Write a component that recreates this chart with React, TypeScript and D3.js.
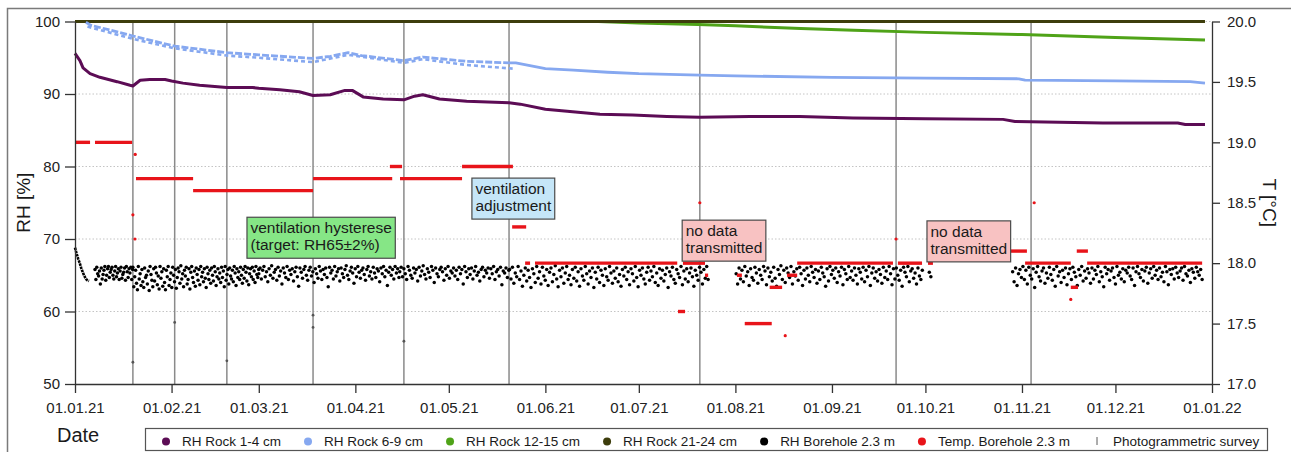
import React, { useRef, useEffect } from "react";
import * as d3 from "d3";

const W = 1291;
const H = 452;
const FONT = "'Liberation Sans', Arial, sans-serif";

// photogrammetric survey dates (vertical lines)
const surveys = [
  "2021-01-19 14", "2021-02-02 00", "2021-02-18 18", "2021-03-18 10", "2021-04-16 14",
  "2021-05-20 08", "2021-07-20 14", "2021-09-21 14", "2021-11-03 22",
];

// RH Rock 1-4 cm
const rock14: [string, number][] = [
  ["2021-01-01 00", 95.6], ["2021-01-02 14", 94.6], ["2021-01-03 14", 93.6], ["2021-01-05 20", 92.8],
  ["2021-01-09 00", 92.3], ["2021-01-14 12", 91.7], ["2021-01-18 16", 91.2], ["2021-01-19 14", 91.1],
  ["2021-01-21 22", 91.9], ["2021-01-25 00", 92.0], ["2021-01-29 22", 92.0], ["2021-02-01 00", 91.8],
  ["2021-02-04 16", 91.5], ["2021-02-10 00", 91.2], ["2021-02-18 18", 90.9], ["2021-02-27 00", 90.9],
  ["2021-03-01 00", 90.8], ["2021-03-07 18", 90.6], ["2021-03-14 00", 90.3], ["2021-03-18 10", 89.8],
  ["2021-03-23 22", 89.9], ["2021-03-28 16", 90.5], ["2021-03-31 00", 90.5], ["2021-04-03 12", 89.6],
  ["2021-04-09 22", 89.3], ["2021-04-16 14", 89.2], ["2021-04-20 00", 89.7], ["2021-04-22 16", 89.9],
  ["2021-04-28 00", 89.3], ["2021-05-06 18", 89.0], ["2021-05-20 08", 88.8], ["2021-05-23 22", 88.6],
  ["2021-06-01 00", 87.9], ["2021-06-18 12", 87.2], ["2021-06-29 00", 87.1], ["2021-07-10 00", 86.9],
  ["2021-07-20 14", 86.8], ["2021-08-05 16", 86.9], ["2021-08-21 16", 86.9], ["2021-09-07 18", 86.7],
  ["2021-10-01 00", 86.6], ["2021-10-25 22", 86.5], ["2021-10-29 18", 86.2], ["2021-11-27 00", 86.0],
  ["2021-12-21 00", 86.0], ["2021-12-23 10", 85.8], ["2021-12-29 18", 85.8],
];

// RH Rock 6-9 cm: two logger tracks until end of May, then one
const rock69Upper: [string, number][] = [
  ["2021-01-04 12", 99.9], ["2021-01-06 00", 99.5], ["2021-01-19 14", 98.0], ["2021-02-02 00", 96.6],
  ["2021-02-18 18", 95.7], ["2021-03-01 00", 95.4], ["2021-03-18 10", 94.9], ["2021-03-24 00", 95.2],
  ["2021-03-29 16", 95.7], ["2021-04-03 00", 95.3], ["2021-04-16 14", 94.6], ["2021-04-22 16", 95.1],
  ["2021-05-06 18", 94.5], ["2021-05-20 08", 94.3],
];
const rock69Lower: [string, number][] = [
  ["2021-01-05 00", 99.3], ["2021-01-19 14", 97.6], ["2021-02-02 00", 96.3], ["2021-02-18 18", 95.3],
  ["2021-03-01 00", 95.0], ["2021-03-18 10", 94.4], ["2021-03-29 16", 95.4], ["2021-04-16 14", 94.3],
  ["2021-04-22 16", 94.8], ["2021-05-06 18", 94.0], ["2021-05-21 12", 93.5],
];
const rock69: [string, number][] = [
  ["2021-05-20 08", 94.3], ["2021-05-22 12", 94.3], ["2021-06-01 00", 93.5], ["2021-06-10 00", 93.3],
  ["2021-06-21 00", 93.0], ["2021-07-01 00", 92.8], ["2021-07-20 14", 92.6], ["2021-08-01 00", 92.5],
  ["2021-09-01 00", 92.3], ["2021-10-01 00", 92.2], ["2021-10-31 00", 92.1], ["2021-11-02 00", 91.9],
  ["2021-12-01 00", 91.8], ["2021-12-25 00", 91.7], ["2021-12-29 18", 91.5],
];

// RH Rock 12-15 cm
const rock1215: [string, number][] = [
  ["2021-01-01 00", 100], ["2021-06-18 00", 100], ["2021-07-01 00", 99.8], ["2021-07-20 00", 99.6],
  ["2021-08-01 00", 99.4], ["2021-08-22 00", 99.05], ["2021-09-08 00", 98.8], ["2021-10-01 00", 98.5],
  ["2021-11-01 00", 98.2], ["2021-12-01 00", 97.8], ["2021-12-29 18", 97.45],
];

// RH Rock 21-24 cm
const rock2124: [string, number][] = [["2021-01-01 00", 100], ["2021-12-29 18", 100]];

// RH Borehole 2.3 m: first days after installation
const boreStart: [string, number][] = [
  ["2021-01-01 00", 68.8], ["2021-01-01 12", 68.0], ["2021-01-02 00", 67.3], ["2021-01-02 12", 66.7],
  ["2021-01-03 00", 66.0], ["2021-01-03 12", 65.4], ["2021-01-04 00", 64.9], ["2021-01-04 12", 64.5],
  ["2021-01-05 00", 64.3], ["2021-01-05 12", 64.2],
];

// RH Borehole 2.3 m readings, two digits each = tenths above 60 % (e.g. "58" -> 65.8)
const boreholeA = {
  from: "2021-01-07 10", to: "2021-01-19 12",
  codes: "58446152495638604551" + "57624350596247545861" + "50455662485359445661" + "46515460436255475953" + "614458",
};
const boreholeB = {
  from: "2021-01-19 14", to: "2021-02-28 23",
  codes:
    "61344857393062455236" + "58413360475038562962" + "51433459426153374931" + "62465535594030574862" +
    "36445333615041583247" + "60553963455234574961" + "38445931546247405635" + "60514358376248544159" +
    "46336152445739605042" + "62553648594553406147" + "56346243515838604945" + "57416253365947554461" +
    "50395846625442603752" + "59486144564062514758",
};
const boreholeC = {
  from: "2021-03-01 00", to: "2021-04-15 00",
  codes:
    "52604557624855415950" + "63465458436149563860" + "53476244575159425561" + "48356054465862504357" +
    "61495540595246625644" + "58516047346153574562" + "49555942605247586350" + "44566153395948625446" +
    "57605143586249554561" + "53475956416052624857" + "36546150584562535947",
};
const boreholeD = {
  from: "2021-04-15 06", to: "2021-05-20 06",
  codes:
    "55614859524462575046" + "60535842614956635145" + "59544762574060524858" + "61554359506246565360" +
    "49574461525838625547" + "59516045566250544258" + "61485753604659526244" + "55584961375653604757",
};
const boreholeE = {
  from: "2021-05-20 12", to: "2021-07-23 06",
  codes:
    "58456139534862445635" + "50604257473359524062" + "46553861494358365460" + "41516345345748603953" +
    "62445037584661425535" + "59494362523856476033" + "54456140575036594843" + "62533956466041513558" +
    "49614455375952426247" + "34575060453854614356" + "48624053365946574251" + "60335549614439585247" +
    "62375645594153604835" + "57504361543858466244",
};
const boreholeF = {
  from: "2021-08-01 06", to: "2021-09-30 00",
  codes:
    "52386045574162495536" + "59474361533958504462" + "56376048544261463558" + "51634457406053476238" +
    "55495943615236574560" + "50416254475839564461" + "53483559426251574660" + "40554961375852446247" +
    "56436050385954456141" + "57486236536046554258" + "51396147564462523759" + "45605043573561544862" +
    "41565946533860494457",
};
const boreholeG = { from: "2021-10-02 06", to: "2021-10-02 18", codes: "5448" };
const boreholeH = {
  from: "2021-10-29 00", to: "2021-12-28 20",
  codes:
    "55416036525847624457" + "38615045593354624842" + "56603953466151435835" + "62495540574760375259" +
    "44615448365850624256" + "46595339604557516241" + "55483461525843566047" + "38625054455941575361" +
    "49446036556252475842" + "56613953594662505744" + "60485441625537585159" + "45615347566043625249" +
    "57405954466155505844",
};
const boreholeSegments = [boreholeA, boreholeB, boreholeC, boreholeD, boreholeE, boreholeF, boreholeG, boreholeH];

// single borehole readings taken during the surveys
const boreholeSurvey: [string, number][] = [
  ["2021-01-19 14", 53.0], ["2021-02-02 00", 58.5], ["2021-02-18 18", 53.2],
  ["2021-03-18 10", 59.5], ["2021-03-18 10", 57.8], ["2021-04-16 14", 55.9],
];

// Temp. Borehole 2.3 m, constant stretches [from, to, °C]
const tempRuns: [string, string, number][] = [
  ["2021-01-01 00", "2021-01-05 20", 19.0], ["2021-01-07 10", "2021-01-19 08", 19.0],
  ["2021-01-20 14", "2021-02-07 22", 18.7], ["2021-02-07 22", "2021-03-18 10", 18.6],
  ["2021-03-18 10", "2021-04-12 20", 18.7], ["2021-04-12 02", "2021-04-16 00", 18.8],
  ["2021-04-15 08", "2021-05-05 06", 18.7], ["2021-05-05 06", "2021-05-21 14", 18.8],
  ["2021-05-21 08", "2021-05-25 20", 18.3], ["2021-05-25 12", "2021-05-27 02", 18.0],
  ["2021-05-28 16", "2021-07-13 08", 18.0], ["2021-07-13 14", "2021-07-15 20", 17.6],
  ["2021-07-15 04", "2021-07-22 06", 18.0], ["2021-07-22 06", "2021-07-23 06", 17.9],
  ["2021-08-01 12", "2021-08-03 02", 17.9], ["2021-08-04 00", "2021-08-12 16", 17.5],
  ["2021-08-12 00", "2021-08-16 00", 17.8], ["2021-08-17 14", "2021-08-20 20", 17.9],
  ["2021-08-20 20", "2021-09-20 14", 18.0], ["2021-09-22 04", "2021-09-29 22", 18.0],
  ["2021-10-01 20", "2021-10-03 10", 18.0], ["2021-10-28 06", "2021-11-02 14", 18.1],
  ["2021-11-02 00", "2021-11-16 16", 18.0], ["2021-11-16 16", "2021-11-19 00", 17.8],
  ["2021-11-18 14", "2021-11-22 04", 18.1], ["2021-11-21 22", "2021-12-28 20", 18.0],
];
const tempSingles: [string, number][] = [
  ["2021-01-20 08", 18.9], ["2021-01-19 14", 18.4], ["2021-01-20 06", 18.2], ["2021-07-20 14", 18.5],
  ["2021-08-17 00", 17.4], ["2021-09-21 14", 18.2], ["2021-11-04 22", 18.5], ["2021-11-16 16", 17.7],
];

const annotations = [
  { lines: ["ventilation hysterese", "(target: RH65±2%)"], date: "2021-02-25 05", rh: 73.0, fill: "#86e686" },
  { lines: ["ventilation", "adjustment"], date: "2021-05-08 10", rh: 78.4, fill: "#c5e6f8" },
  { lines: ["no data", "transmitted"], date: "2021-07-14 22", rh: 72.6, fill: "#f8c2c2" },
  { lines: ["no data", "transmitted"], date: "2021-10-01 12", rh: 72.5, fill: "#f8c2c2" },
];

const rhTicks = [50, 60, 70, 80, 90, 100];
const tTicks = [17.0, 17.5, 18.0, 18.5, 19.0, 19.5, 20.0];

const colors = {
  rock14: "#5c0c55",
  rock69: "#86a8f0",
  rock1215: "#4fa318",
  rock2124: "#3d3d0c",
  borehole: "#000000",
  temp: "#e8141a",
  survey: "#8a8a8a",
};

const legendItems = [
  { label: "RH Rock 1-4 cm", color: colors.rock14, kind: "dot" },
  { label: "RH Rock 6-9 cm", color: colors.rock69, kind: "dot" },
  { label: "RH Rock 12-15 cm", color: colors.rock1215, kind: "dot" },
  { label: "RH Rock 21-24 cm", color: colors.rock2124, kind: "dot" },
  { label: "RH Borehole 2.3 m", color: colors.borehole, kind: "dot" },
  { label: "Temp. Borehole 2.3 m", color: colors.temp, kind: "dot" },
  { label: "Photogrammetric survey", color: colors.survey, kind: "bar" },
];

const parse = d3.timeParse("%Y-%m-%d %H");
const t = (s: string) => parse(s) as Date;

const App = () => {
  const svgRef = useRef<SVGSVGElement>(null);

  useEffect(() => {
    const svg = d3.select(svgRef.current);
    svg.selectAll("*").remove();

    const left = 75, right = 1212, top = 21.5, bottom = 384;

    const x = d3.scaleTime().domain([t("2021-01-01 00"), t("2022-01-01 00")]).range([left, right]);
    const yL = d3.scaleLinear().domain([50, 100]).range([bottom, top]);
    const yR = d3.scaleLinear().domain([17, 20]).range([bottom, top]);

    // outer frame
    svg.append("rect")
      .attr("x", 7.5).attr("y", 8.5).attr("width", 1400).attr("height", 600)
      .attr("fill", "none").attr("stroke", "#7a7a7a").attr("stroke-width", 1.5);

    // grid
    svg.append("g")
      .selectAll("line")
      .data(rhTicks.slice(1))
      .join("line")
      .attr("x1", left).attr("x2", right)
      .attr("y1", (d) => yL(d)).attr("y2", (d) => yL(d))
      .attr("stroke", "#b5b5b5").attr("stroke-width", 0.8).attr("stroke-dasharray", "1.5,2");

    // survey lines
    svg.append("g")
      .selectAll("line")
      .data(surveys)
      .join("line")
      .attr("x1", (d) => x(t(d))).attr("x2", (d) => x(t(d)))
      .attr("y1", top).attr("y2", bottom)
      .attr("stroke", colors.survey).attr("stroke-width", 1.5);

    // borehole RH
    const bore: [Date, number][] = [];
    boreholeSegments.forEach((seg) => {
      const vals = (seg.codes.match(/\d\d/g) || []).map((c) => 60 + +c / 10);
      const a = t(seg.from).getTime(), b = t(seg.to).getTime();
      vals.forEach((v, i) => {
        const f = vals.length > 1 ? i / (vals.length - 1) : 0;
        bore.push([new Date(a + (b - a) * f), v]);
      });
    });

    const line = d3.line<[Date, number]>().x((d) => x(d[0])).y((d) => yL(d[1]));
    const toPts = (arr: [string, number][]) => arr.map((d) => [t(d[0]), d[1]] as [Date, number]);

    svg.append("path")
      .attr("d", line(toPts(boreStart)))
      .attr("fill", "none").attr("stroke", colors.borehole).attr("stroke-width", 2.6)
      .attr("stroke-dasharray", "2.5,0.8");

    svg.append("g")
      .selectAll("circle")
      .data(bore)
      .join("circle")
      .attr("cx", (d) => x(d[0])).attr("cy", (d) => yL(d[1]))
      .attr("r", 1.75).attr("fill", colors.borehole);

    svg.append("g")
      .selectAll("circle")
      .data(boreholeSurvey)
      .join("circle")
      .attr("cx", (d) => x(t(d[0]))).attr("cy", (d) => yL(d[1]))
      .attr("r", 1.4).attr("fill", "#555");

    // temperature
    svg.append("g")
      .selectAll("line")
      .data(tempRuns)
      .join("line")
      .attr("x1", (d) => x(t(d[0]))).attr("x2", (d) => x(t(d[1])))
      .attr("y1", (d) => yR(d[2])).attr("y2", (d) => yR(d[2]))
      .attr("stroke", colors.temp).attr("stroke-width", 3.4);

    svg.append("g")
      .selectAll("circle")
      .data(tempSingles)
      .join("circle")
      .attr("cx", (d) => x(t(d[0]))).attr("cy", (d) => yR(d[1]))
      .attr("r", 1.6).attr("fill", colors.temp);

    // rock RH lines
    const drawLine = (arr: [string, number][], color: string, width: number, dash?: string) => {
      const p = svg.append("path")
        .attr("d", line(toPts(arr)))
        .attr("fill", "none").attr("stroke", color).attr("stroke-width", width)
        .attr("stroke-linejoin", "round");
      if (dash) p.attr("stroke-dasharray", dash);
    };
    drawLine(rock1215, colors.rock1215, 3);
    drawLine(rock2124, colors.rock2124, 3.2);
    drawLine(rock69Lower, colors.rock69, 2.6, "4,3");
    drawLine(rock69Upper, colors.rock69, 2.8, "7,2");
    drawLine(rock69, colors.rock69, 2.8);
    drawLine(rock14, colors.rock14, 3);

    // annotation boxes
    annotations.forEach((a) => {
      const g = svg.append("g").attr("transform", `translate(${x(t(a.date))},${yL(a.rh)})`);
      const rect = g.append("rect").attr("fill", a.fill).attr("stroke", "#4a4a4a").attr("stroke-width", 1.2);
      let maxW = 0;
      a.lines.forEach((s, i) => {
        const txt = g.append("text")
          .attr("x", 3.5).attr("y", 16 + i * 17)
          .attr("font-family", FONT).attr("font-size", 15.5).attr("fill", "#1a1a1a")
          .text(s);
        maxW = Math.max(maxW, (txt.node() as SVGTextElement).getComputedTextLength());
      });
      rect.attr("width", maxW + 7).attr("height", 41);
    });

    // axes
    const styleAxis = (g: any) => {
      g.selectAll("path").attr("stroke", "#333").attr("stroke-width", 1.3);
      g.selectAll("line").attr("stroke", "#333").attr("stroke-width", 1.3);
      g.selectAll("text").attr("font-family", FONT).attr("font-size", 15).attr("fill", "#222");
    };

    svg.append("g")
      .attr("transform", `translate(0,${bottom})`)
      .call(
        d3.axisBottom(x)
          .tickValues(d3.timeMonth.range(t("2021-01-01 00"), t("2022-01-02 00")))
          .tickFormat((d: any) => d3.timeFormat("%d.%m.%y")(d))
          .tickSize(9).tickSizeOuter(0).tickPadding(9)
      )
      .call(styleAxis);

    svg.append("g")
      .attr("transform", `translate(${left},0)`)
      .call(d3.axisLeft(yL).tickValues(rhTicks).tickSize(10).tickSizeOuter(0).tickPadding(5))
      .call(styleAxis);

    svg.append("g")
      .attr("transform", `translate(${right},0)`)
      .call(
        d3.axisRight(yR).tickValues(tTicks).tickFormat(d3.format(".1f"))
          .tickSize(8).tickSizeOuter(0).tickPadding(7)
      )
      .call(styleAxis);

    // axis titles
    svg.append("text")
      .attr("transform", `translate(30,${(top + bottom) / 2}) rotate(-90)`)
      .attr("text-anchor", "middle").attr("font-family", FONT).attr("font-size", 19).attr("fill", "#1a1a1a")
      .text("RH [%]");
    svg.append("text")
      .attr("transform", `translate(1263,${(top + bottom) / 2}) rotate(90)`)
      .attr("text-anchor", "middle").attr("font-family", FONT).attr("font-size", 19).attr("fill", "#1a1a1a")
      .text("T [°C]");
    svg.append("text")
      .attr("x", 57).attr("y", 442)
      .attr("font-family", FONT).attr("font-size", 20).attr("fill", "#1a1a1a")
      .text("Date");

    // legend
    const lg = svg.append("g");
    lg.append("rect")
      .attr("x", 145.5).attr("y", 428.5).attr("width", 1122).attr("height", 22)
      .attr("fill", "#fff").attr("stroke", "#555").attr("stroke-width", 1.2);
    let cx = 166;
    legendItems.forEach((it) => {
      if (it.kind === "dot") {
        lg.append("circle").attr("cx", cx).attr("cy", 441.5).attr("r", 4).attr("fill", it.color);
      } else {
        lg.append("line").attr("x1", cx).attr("x2", cx).attr("y1", 437).attr("y2", 445)
          .attr("stroke", it.color).attr("stroke-width", 1.4);
      }
      const txt = lg.append("text")
        .attr("x", cx + 16).attr("y", 446)
        .attr("font-family", FONT).attr("font-size", 13.5).attr("fill", "#1a1a1a")
        .text(it.label);
      cx = cx + 16 + (txt.node() as SVGTextElement).getComputedTextLength() + 27;
    });
  }, []);

  return (
    <svg
      ref={svgRef}
      width={W}
      height={H}
      style={{ position: "absolute", left: 0, top: 0, background: "#fff" }}
    />
  );
};

export default App;
